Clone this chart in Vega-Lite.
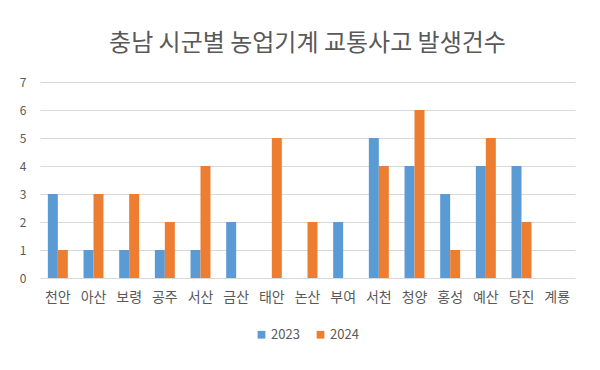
{
  "$schema": "https://vega.github.io/schema/vega-lite/v6.json",
  "width": 535,
  "height": 196,
  "autosize": {"type": "none"},
  "padding": {"left": 40, "top": 82, "right": 25, "bottom": 92},
  "background": "white",
  "title": {
    "text": "충남 시군별 농업기계 교통사고 발생건수",
    "font": "Noto Sans CJK KR",
    "fontSize": 24,
    "fontWeight": "normal",
    "color": "#595959",
    "anchor": "middle",
    "offset": 20
  },
  "data": {
    "values": [
      {"region": "천안", "year": "2023", "count": 3},
      {"region": "천안", "year": "2024", "count": 1},
      {"region": "아산", "year": "2023", "count": 1},
      {"region": "아산", "year": "2024", "count": 3},
      {"region": "보령", "year": "2023", "count": 1},
      {"region": "보령", "year": "2024", "count": 3},
      {"region": "공주", "year": "2023", "count": 1},
      {"region": "공주", "year": "2024", "count": 2},
      {"region": "서산", "year": "2023", "count": 1},
      {"region": "서산", "year": "2024", "count": 4},
      {"region": "금산", "year": "2023", "count": 2},
      {"region": "금산", "year": "2024", "count": 0},
      {"region": "태안", "year": "2023", "count": 0},
      {"region": "태안", "year": "2024", "count": 5},
      {"region": "논산", "year": "2023", "count": 0},
      {"region": "논산", "year": "2024", "count": 2},
      {"region": "부여", "year": "2023", "count": 2},
      {"region": "부여", "year": "2024", "count": 0},
      {"region": "서천", "year": "2023", "count": 5},
      {"region": "서천", "year": "2024", "count": 4},
      {"region": "청양", "year": "2023", "count": 4},
      {"region": "청양", "year": "2024", "count": 6},
      {"region": "홍성", "year": "2023", "count": 3},
      {"region": "홍성", "year": "2024", "count": 1},
      {"region": "예산", "year": "2023", "count": 4},
      {"region": "예산", "year": "2024", "count": 5},
      {"region": "당진", "year": "2023", "count": 4},
      {"region": "당진", "year": "2024", "count": 2},
      {"region": "계룡", "year": "2023", "count": 0},
      {"region": "계룡", "year": "2024", "count": 0}
    ]
  },
  "mark": {"type": "bar"},
  "encoding": {
    "x": {
      "field": "region",
      "type": "nominal",
      "sort": null,
      "title": null,
      "scale": {"paddingInner": 0.44, "paddingOuter": 0.22},
      "axis": {
        "labelAngle": 0,
        "labelFont": "Noto Sans CJK KR",
        "labelFontSize": 14,
        "labelColor": "#595959",
        "labelPadding": 12,
        "ticks": false,
        "domain": false,
        "grid": false
      }
    },
    "xOffset": {"field": "year", "type": "nominal", "scale": {"paddingInner": 0}},
    "y": {
      "field": "count",
      "type": "quantitative",
      "title": null,
      "scale": {"domain": [0, 7]},
      "axis": {
        "values": [0, 1, 2, 3, 4, 5, 6, 7],
        "labelFont": "Noto Sans CJK KR",
        "labelFontSize": 12,
        "labelColor": "#595959",
        "labelPadding": 14,
        "ticks": false,
        "domain": false,
        "gridColor": "#d9d9d9",
        "gridWidth": 1
      }
    },
    "color": {
      "field": "year",
      "type": "nominal",
      "title": null,
      "scale": {"domain": ["2023", "2024"], "range": ["#5B9BD5", "#ED7D31"]},
      "legend": {
        "orient": "none",
        "legendX": 215,
        "legendY": 246,
        "direction": "horizontal",
        "symbolType": "square",
        "symbolSize": 60,
        "symbolStrokeWidth": 0,
        "labelFont": "Noto Sans CJK KR",
        "labelFontSize": 13,
        "labelColor": "#595959",
        "labelOffset": 3,
        "columnPadding": 14
      }
    }
  },
  "config": {
    "view": {"stroke": null}
  }
}
